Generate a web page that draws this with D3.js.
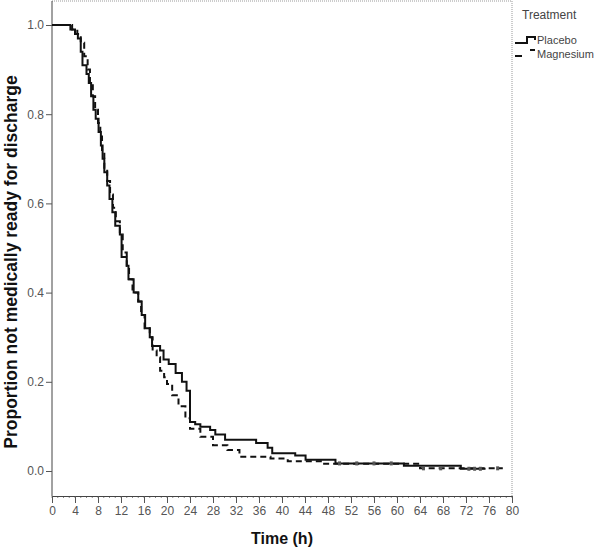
<!DOCTYPE html>
<html>
<head>
<meta charset="utf-8" />
<title>Kaplan-Meier: time to medical readiness for discharge</title>
<script src="https://d3js.org/d3.v7.min.js"></script>
<style>
body { margin: 0; background: white; }
svg { font-family: "Liberation Sans", Arial, sans-serif; }
.tick text { fill: #555; font-size: 12px; }
.axis-title { font-weight: bold; font-size: 16px; fill: #111; }
</style>
</head>
<body>
<div id="chart"></div>
<script>
// step points [time (h), proportion after step]
var placebo = [
  [0, 1.0], [3.2, 0.99], [4.0, 0.98], [4.5, 0.97], [5.0, 0.94], [5.3, 0.91],
  [6.0, 0.89], [6.4, 0.87], [6.8, 0.84], [7.2, 0.81], [7.6, 0.79], [8.1, 0.76],
  [8.5, 0.73], [8.8, 0.70], [9.1, 0.67], [9.6, 0.64], [10.0, 0.61], [10.5, 0.58],
  [11.0, 0.55], [11.8, 0.53], [12.1, 0.48], [13.0, 0.46], [13.3, 0.43], [14.2, 0.40],
  [15.0, 0.38], [15.6, 0.35], [16.2, 0.32], [17.0, 0.30], [17.4, 0.28], [18.8, 0.27],
  [19.4, 0.25], [20.3, 0.24], [21.5, 0.22], [22.6, 0.20], [23.4, 0.18], [24.0, 0.11],
  [24.9, 0.105], [25.8, 0.099], [27.5, 0.092], [28.4, 0.082], [30.1, 0.07], [35.5, 0.063],
  [37.5, 0.052], [38.3, 0.04], [42.3, 0.035], [44.1, 0.025], [49.3, 0.017], [61.2, 0.012],
  [71.1, 0.005], [75.4, 0.005]
];
var magnesium = [
  [0, 1.0], [3.5, 0.99], [4.4, 0.98], [5.0, 0.96], [5.6, 0.93], [6.2, 0.90],
  [6.6, 0.87], [7.1, 0.84], [7.5, 0.81], [8.0, 0.78], [8.4, 0.75], [8.7, 0.72],
  [9.1, 0.68], [9.6, 0.65], [10.1, 0.62], [10.6, 0.59], [11.1, 0.56], [11.8, 0.53],
  [12.3, 0.49], [13.0, 0.46], [13.4, 0.43], [14.0, 0.40], [15.0, 0.38], [15.5, 0.35],
  [16.1, 0.32], [17.0, 0.30], [17.5, 0.27], [18.2, 0.255], [18.8, 0.225], [19.5, 0.21],
  [20.0, 0.195], [20.9, 0.17], [22.0, 0.145], [23.2, 0.118], [24.0, 0.095], [25.8, 0.077],
  [28.0, 0.058], [30.5, 0.047], [32.6, 0.032], [38.0, 0.028], [41.0, 0.022], [47.0, 0.016],
  [64.0, 0.006], [78.4, 0.006]
];
// censored observations (time, proportion)
var censorMarks = [
  [50, 0.017], [53, 0.017], [56, 0.017], [59, 0.017],
  [64.6, 0.006], [67.6, 0.006], [72.5, 0.005], [73.5, 0.005], [74.5, 0.005], [77.5, 0.006]
];
var xTicks = d3.range(0, 81, 4);
var yTicks = [0, 0.2, 0.4, 0.6, 0.8, 1.0];
var groups = ["Placebo", "Magnesium"];

var width = 600, height = 548;
var plotLeft = 52, plotRight = 512, yTop = 25, yBottom = 471, axisY = 496;

var svg = d3.select("#chart").append("svg")
    .attr("width", width).attr("height", height);

var x = d3.scaleLinear().domain([0, 80]).range([plotLeft, plotRight]);
var y = d3.scaleLinear().domain([0, 1]).range([yBottom, yTop]);

// dotted frame top and right
svg.append("line").attr("x1", plotLeft).attr("x2", plotRight).attr("y1", 1).attr("y2", 1)
    .attr("stroke", "#999").attr("stroke-dasharray", "1,1");
svg.append("line").attr("x1", plotRight).attr("x2", plotRight).attr("y1", 1).attr("y2", axisY)
    .attr("stroke", "#999").attr("stroke-dasharray", "1,1");

// x axis with minor ticks
var gx = svg.append("g").attr("transform", "translate(0," + axisY + ")");
gx.selectAll(".minor").data(d3.range(0, 81, 1)).enter().append("line")
    .attr("x1", x).attr("x2", x).attr("y1", 0).attr("y2", 2)
    .attr("stroke", "#888");
gx.call(d3.axisBottom(x).tickValues(xTicks).tickSize(7).tickPadding(3).tickSizeOuter(0));
gx.select(".domain").attr("stroke", "#444");
gx.selectAll(".tick line").attr("stroke", "#555");

// y axis
var gy = svg.append("g").attr("transform", "translate(" + plotLeft + ",0)");
gy.call(d3.axisLeft(y).tickValues(yTicks).tickFormat(d3.format(".1f")).tickSize(6).tickPadding(2).tickSizeOuter(0));
gy.select(".domain").attr("d", "M0,1V" + axisY).attr("stroke", "#444");
gy.selectAll(".tick line").attr("stroke", "#555");

// titles
svg.append("text").attr("class", "axis-title")
    .attr("x", (plotLeft + plotRight) / 2).attr("y", 544).attr("text-anchor", "middle")
    .text("Time (h)");
svg.append("text").attr("class", "axis-title")
    .attr("transform", "translate(17," + 262 + ") rotate(-90)").attr("text-anchor", "middle")
    .style("font-size", "17.5px")
    .text("Proportion not medically ready for discharge");

// curves
var line = d3.line().x(function(d) { return x(d[0]); }).y(function(d) { return y(d[1]); })
    .curve(d3.curveStepAfter);

svg.append("path").datum(magnesium).attr("d", line)
    .attr("fill", "none").attr("stroke", "#111").attr("stroke-width", 2)
    .attr("stroke-dasharray", "6,4");
svg.append("path").datum(placebo).attr("d", line)
    .attr("fill", "none").attr("stroke", "#111").attr("stroke-width", 2);

svg.append("g").selectAll("line").data(censorMarks).enter().append("line")
    .attr("x1", function(d) { return x(d[0]); }).attr("x2", function(d) { return x(d[0]); })
    .attr("y1", function(d) { return y(d[1]) - 2; }).attr("y2", function(d) { return y(d[1]) + 2; })
    .attr("stroke", "#555").attr("stroke-width", 3);

// legend
var lg = svg.append("g");
lg.append("text").attr("x", 522).attr("y", 19).attr("font-size", 12).attr("fill", "#444")
    .text("Treatment");
lg.append("path").attr("d", "M515,43H527V37H535V40")
    .attr("fill", "none").attr("stroke", "#111").attr("stroke-width", 2);
lg.append("path").attr("d", "M515,56H522M530,50H535")
    .attr("fill", "none").attr("stroke", "#111").attr("stroke-width", 2);
lg.selectAll(".lab").data(groups).enter().append("text")
    .attr("x", 537).attr("y", function(d, i) { return 44 + i * 14; })
    .attr("font-size", 11).attr("fill", "#444")
    .text(function(d) { return d; });
</script>
</body>
</html>
